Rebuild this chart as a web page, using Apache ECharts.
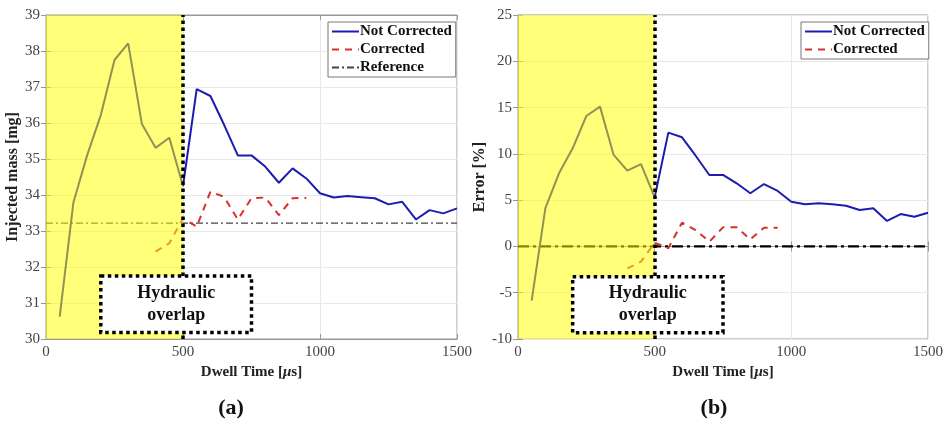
<!DOCTYPE html>
<html>
<head>
<meta charset="utf-8">
<script src="https://cdn.jsdelivr.net/npm/echarts@6/dist/echarts.min.js"></script>
<style>
  html, body { margin: 0; padding: 0; background: #fff; }
  #main { width: 947px; height: 422px; }
</style>
</head>
<body>
<div id="main"></div>
<script>
// dwell time [us]
var dwellAll = [50, 100, 150, 200, 250, 300, 350, 400, 450, 500, 550, 600, 650, 700, 750,
                800, 850, 900, 950, 1000, 1050, 1100, 1150, 1200, 1250, 1300, 1350, 1400, 1450, 1500];
var dwellCorr = [400, 450, 500, 550, 600, 650, 700, 750, 800, 850, 900, 950];

// (a) injected mass [mg]
var massNotCorrected = [30.62, 33.79, 35.10, 36.22, 37.75, 38.21, 35.97, 35.31, 35.59, 34.25, 36.94, 36.75, 35.95, 35.10, 35.10,
                        34.79, 34.34, 34.74, 34.46, 34.05, 33.93, 33.97, 33.94, 33.91, 33.74, 33.81, 33.32, 33.58, 33.49, 33.63];
var massCorrected = [32.43, 32.66, 33.35, 33.12, 34.09, 33.95, 33.32, 33.91, 33.93, 33.44, 33.91, 33.92];
var massReference = 33.22;

// (b) error [%]
var errNotCorrected = [-5.86, 4.12, 7.90, 10.60, 14.09, 15.10, 9.88, 8.18, 8.90, 5.30, 12.29, 11.79, 9.80, 7.72, 7.72,
                       6.82, 5.74, 6.74, 5.99, 4.83, 4.55, 4.66, 4.55, 4.40, 3.93, 4.12, 2.75, 3.50, 3.21, 3.64];
var errCorrected = [-2.37, -1.65, 0.40, -0.20, 2.56, 1.77, 0.51, 2.06, 2.06, 0.77, 2.02, 2.02];
var errReference = 0;

var xTicks = [0, 500, 1000, 1500];
var massTicks = [30, 31, 32, 33, 34, 35, 36, 37, 38, 39];
var errTicks = [-10, -5, 0, 5, 10, 15, 20, 25];

function pairs(xs, ys) {
    return xs.map(function (x, i) { return [x, ys[i]]; });
}

var FONT = 'Liberation Serif';
var blue = '#1c1cb0';
var red = '#d8302c';

function xAx(grid, top) {
    return {
        type: 'value', gridIndex: grid, position: top ? 'top' : 'bottom',
        min: xTicks[0], max: xTicks[xTicks.length - 1], interval: 500,
        name: top ? '' : 'Dwell Time [{i|\u03bc}s]',
        nameLocation: 'middle', nameGap: 26,
        nameTextStyle: {
            fontFamily: FONT, fontWeight: 'bold', fontSize: 15, color: '#222',
            rich: { i: { fontFamily: FONT, fontStyle: 'italic', fontWeight: 'bold', fontSize: 15, color: '#222' } }
        },
        axisLine: { show: true, lineStyle: { color: '#999', width: 1 } },
        axisTick: { show: true, inside: true, length: 5, lineStyle: { color: '#999' } },
        axisLabel: { show: !top, fontFamily: FONT, fontSize: 15, color: '#444', margin: 6,
                     formatter: function (v) { return String(v); } },
        splitLine: { show: !top, lineStyle: { color: '#e8e8e8' } }
    };
}

function yAx(grid, right, ticks, step, name, gap) {
    return {
        type: 'value', gridIndex: grid, position: right ? 'right' : 'left',
        min: ticks[0], max: ticks[ticks.length - 1], interval: step,
        name: right ? '' : name, nameLocation: 'middle', nameGap: gap,
        nameTextStyle: { fontFamily: FONT, fontWeight: 'bold', fontSize: 16, color: '#222' },
        axisLine: { show: true, lineStyle: { color: '#999', width: 1 } },
        axisTick: { show: true, inside: true, length: 5, lineStyle: { color: '#999' } },
        axisLabel: { show: !right, fontFamily: FONT, fontSize: 15, color: '#444', margin: 6 },
        splitLine: { show: !right, lineStyle: { color: '#e8e8e8' } }
    };
}

function overlays(xi, yi, boxTop, boxBottom) {
    return [
        // yellow overlap region, drawn above the lines (semi-transparent)
        {
            type: 'line', xAxisIndex: xi, yAxisIndex: yi, data: [], silent: true,
            markArea: {
                silent: true, z: 10,
                itemStyle: { color: 'rgba(255,255,0,0.52)' },
                data: [[{ xAxis: 0 }, { xAxis: 500 }]]
            }
        },
        // dotted boundary
        {
            type: 'line', xAxisIndex: xi, yAxisIndex: yi, data: [], silent: true,
            markLine: {
                silent: true, symbol: 'none', animation: false, z: 11,
                label: { show: false },
                lineStyle: { color: '#000', width: 3.5, type: 'dotted' },
                data: [{ xAxis: 500 }]
            }
        },
        // annotation box
        {
            type: 'line', xAxisIndex: xi, yAxisIndex: yi, data: [], silent: true,
            markArea: {
                silent: true, z: 12,
                itemStyle: { color: '#fff', opacity: 1, borderColor: '#000', borderWidth: 3.5, borderType: 'dotted' },
                label: {
                    show: true, position: 'inside', formatter: 'Hydraulic\noverlap',
                    fontFamily: FONT, fontWeight: 'bold', fontSize: 18, lineHeight: 22, color: '#111'
                },
                data: [[{ xAxis: 200, yAxis: boxTop }, { xAxis: 750, yAxis: boxBottom }]]
            }
        }
    ];
}

var legendBase = {
    orient: 'vertical', itemWidth: 27, itemHeight: 14, itemGap: 3,
    backgroundColor: '#fff', borderColor: '#777', borderWidth: 1,
    padding: [2, 4, 2, 3],
    itemStyle: { opacity: 0 },
    textStyle: { fontFamily: FONT, fontWeight: 'bold', fontSize: 15, color: '#111', padding: [0, 0, 0, -4] }
};

var chart = echarts.init(document.getElementById('main'));
var option = {
    animation: false,
    backgroundColor: '#fff',
    title: [
        { text: '(a)', left: 226, top: 392, textAlign: 'center',
          textStyle: { fontFamily: FONT, fontWeight: 'bold', fontSize: 22, color: '#111' } },
        { text: '(b)', left: 709, top: 392, textAlign: 'center',
          textStyle: { fontFamily: FONT, fontWeight: 'bold', fontSize: 22, color: '#111' } }
    ],
    legend: [
        Object.assign({}, legendBase, { left: 328, top: 22, data: ['Not Corrected', 'Corrected', 'Reference'] }),
        Object.assign({}, legendBase, { left: 801, top: 22, data: ['Not Corrected', 'Corrected'] })
    ],
    grid: [
        { left: 46, right: 490, top: 15, bottom: 83, show: true, borderColor: '#999', backgroundColor: '#fff' },
        { left: 518, right: 19, top: 15, bottom: 83, show: true, borderColor: '#999', backgroundColor: '#fff' }
    ],
    xAxis: [xAx(0, false), xAx(0, true), xAx(1, false), xAx(1, true)],
    yAxis: [
        yAx(0, false, massTicks, 1, 'Injected mass [mg]', 20),
        yAx(0, true, massTicks, 1, '', 0),
        yAx(1, false, errTicks, 5, 'Error [%]', 24),
        yAx(1, true, errTicks, 5, '', 0)
    ],
    series: [
        {
            name: 'Not Corrected', type: 'line', xAxisIndex: 0, yAxisIndex: 0, symbol: 'none', z: 3,
            lineStyle: { color: blue, width: 2 }, itemStyle: { color: blue },
            data: pairs(dwellAll, massNotCorrected)
        },
        {
            name: 'Corrected', type: 'line', xAxisIndex: 0, yAxisIndex: 0, symbol: 'none', z: 3,
            lineStyle: { color: red, width: 2, type: [7, 6] }, itemStyle: { color: red },
            data: pairs(dwellCorr, massCorrected)
        },
        {
            name: 'Reference', type: 'line', xAxisIndex: 0, yAxisIndex: 0, symbol: 'none', z: 2,
            lineStyle: { color: '#444', width: 1.3, type: [7, 3, 2, 3] }, itemStyle: { color: '#444' },
            data: [[xTicks[0], massReference], [xTicks[xTicks.length - 1], massReference]]
        },
        {
            name: 'Not Corrected', type: 'line', xAxisIndex: 2, yAxisIndex: 2, symbol: 'none', z: 3,
            lineStyle: { color: blue, width: 2 }, itemStyle: { color: blue },
            data: pairs(dwellAll, errNotCorrected)
        },
        {
            name: 'Corrected', type: 'line', xAxisIndex: 2, yAxisIndex: 2, symbol: 'none', z: 3,
            lineStyle: { color: red, width: 2, type: [7, 6] }, itemStyle: { color: red },
            data: pairs(dwellCorr, errCorrected)
        },
        {
            name: 'Reference (b)', type: 'line', xAxisIndex: 2, yAxisIndex: 2, symbol: 'none', z: 2,
            lineStyle: { color: '#000', width: 2.2, type: [11, 4, 3, 4] }, itemStyle: { color: '#000' },
            data: [[xTicks[0], errReference], [xTicks[xTicks.length - 1], errReference]]
        }
    ].concat(overlays(0, 0, 31.75, 30.18), overlays(2, 2, -3.27, -9.32))
};
chart.setOption(option);
</script>
</body>
</html>
